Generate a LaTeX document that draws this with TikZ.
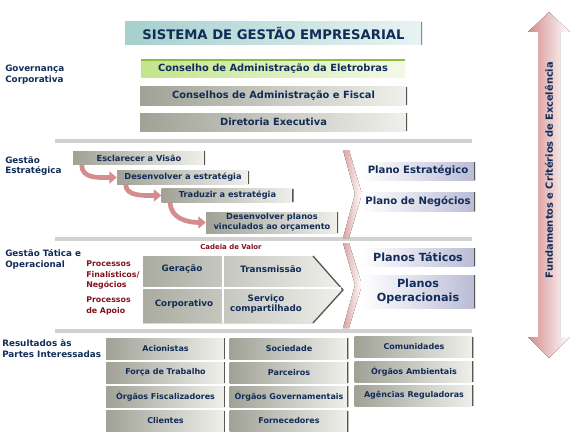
\documentclass[tikz,border=0pt]{standalone}
\usepackage{fontspec}
\setmainfont{DejaVu Sans}
\usetikzlibrary{arrows.meta}
\definecolor{navy}{RGB}{18,44,88}
\definecolor{wine}{RGB}{128,18,28}
\definecolor{boxdark}{RGB}{160,162,150}
\definecolor{boxlight}{RGB}{240,240,236}
\definecolor{edge}{RGB}{88,88,82}
\definecolor{rose}{RGB}{212,140,140}
\definecolor{lav}{RGB}{186,188,214}
\definecolor{teal1}{RGB}{164,208,206}
\definecolor{lime}{RGB}{196,228,140}
\definecolor{leaf}{RGB}{140,190,60}
\definecolor{steel}{RGB}{110,140,190}
\begin{document}
\begin{tikzpicture}[x=0.75pt,y=-0.75pt,
    lbl/.style={font=\fontsize{6.6}{8.2}\selectfont\bfseries, text=navy, align=left, anchor=west, inner sep=0pt},
    proc/.style={font=\fontsize{5.9}{8}\selectfont\bfseries, text=wine, align=left, anchor=west, inner sep=0pt},
    rightedge/.style={path picture={\draw[#1,line width=2pt] (path picture bounding box.north east) -- (path picture bounding box.south east);}},
    gbox/.style={left color=boxdark, right color=boxlight, text=navy, inner sep=0pt, rightedge=edge,
        font=\fontsize{7.4}{9}\selectfont\bfseries},
    stepbox/.style={gbox, minimum width=99pt, minimum height=10pt, font=\fontsize{6.2}{7.6}\selectfont\bfseries, align=center},
    plano/.style={left color=white, right color=lav, text=navy, inner sep=0pt, rightedge=edge,
        minimum width=85.5pt, align=center},
    cell/.style={text=navy, font=\fontsize{6.6}{8}\selectfont\bfseries, align=center, inner sep=0pt},
    party/.style={gbox, minimum width=89pt, minimum height=15.75pt, font=\fontsize{6}{7}\selectfont\bfseries},
    sep/.style={line width=2.5pt, black!18},
    swoosh/.style={draw=rose, line width=3.5pt, -{Triangle[width=9pt,length=5.5pt]}},
    chevron/.style={left color=rose!80, right color=white, draw=none}]
    \useasboundingbox (0,0) rectangle (578,435);

    %excellence arrow
    \fill[left color=rose, right color=white]
        (549,12) -- (570,32) -- (560,32) -- (560,337) -- (570,337) -- (549,358)
        -- (528,337) -- (538,337) -- (538,32) -- (528,32) -- cycle;
    \node[rotate=90, text=navy, font=\fontsize{7.4}{9}\selectfont\bfseries] (fund) at (549,170)
        {Fundamentos e Critérios de Excelência};

    %title and governance
    \node[left color=teal1, right color=teal1!25, inner sep=0pt, rightedge=steel,
        minimum width=222.75pt, minimum height=17.25pt, text=navy,
        font=\fontsize{9.9}{11}\selectfont\bfseries] (title) at (273.5,33.5) {SISTEMA DE GESTÃO EMPRESARIAL};
    \node[lbl] (gov) at (5,75) {Governança\\Corporativa};
    \node[left color=lime, right color=lime!20, inner sep=0pt, rightedge=leaf,
        path picture={\draw[leaf,line width=2pt] (path picture bounding box.north west) -- (path picture bounding box.north east);},
        minimum width=198pt, minimum height=13.5pt, text=navy,
        font=\fontsize{7.4}{9}\selectfont\bfseries] (eletro) at (273,69) {Conselho de Administração da Eletrobras};
    \node[gbox, minimum width=200.25pt, minimum height=13.5pt] (cons) at (273.5,96) {Conselhos de Administração e Fiscal};
    \node[gbox, minimum width=200.25pt, minimum height=13.5pt] (dir) at (273.5,122) {Diretoria Executiva};

    %separators
    \draw[sep] (55,141) -- (472,141);
    \draw[sep] (55,239) -- (472,239);
    \draw[sep] (55,331) -- (472,331);

    %strategic management
    \node[lbl] (est) at (5,166) {Gestão\\Estratégica};
    \node[stepbox] (esc) at (139,158) {Esclarecer a Visão};
    \node[stepbox] (dev) at (183,177.5) {Desenvolver a estratégia};
    \node[stepbox] (trad) at (227.5,195.5) {Traduzir a estratégia};
    \node[stepbox, minimum height=15.75pt] (orc) at (272,222.5) {Desenvolver planos\\vinculados ao orçamento};
    \draw[swoosh] ([xshift=6.75pt]esc.south west) .. controls +(0,14) and +(-18,0) .. (dev.west);
    \draw[swoosh] ([xshift=6.75pt]dev.south west) .. controls +(0,12) and +(-18,0) .. (trad.west);
    \draw[swoosh] ([xshift=6.75pt]trad.south west) .. controls +(0,16) and +(-18,0) .. (orc.west);
    \fill[chevron] (343,150) -- (349,150) -- (362,194) -- (349,238) -- (343,238) -- (355,194) -- cycle;
    \node[plano, minimum height=13.5pt, font=\fontsize{7.6}{9}\selectfont\bfseries] (pe) at (418,171) {Plano Estratégico};
    \node[plano, minimum height=14.25pt, font=\fontsize{7.6}{9}\selectfont\bfseries] (pn) at (418,201.5) {Plano de Negócios};

    %tactical and operational management
    \node[lbl] (tat) at (5,259) {Gestão Tática e\\Operacional};
    \node[text=wine, font=\fontsize{5.2}{6}\selectfont\bfseries, inner sep=0pt] (cadeia) at (231,247) {Cadeia de Valor};
    \node[proc] (fin) at (86,275) {Processos\\Finalísticos/\\Negócios};
    \node[proc] (apoio) at (86,306) {Processos\\de Apoio};
    \fill[left color=boxdark!90, right color=boxlight] (143,256) -- (313,256) -- (343,290) -- (313,323) -- (143,323) -- cycle;
    \draw[edge, line width=1pt] (313,256) -- (343,290) -- (313,323);
    \draw[white, line width=2pt] (223,256) -- (223,323);
    \draw[white, line width=2pt] (143,288) -- (341,288);
    \node[cell] (ger) at (182,269) {Geração};
    \node[cell] (tra) at (271,269) {Transmissão};
    \node[cell] (cor) at (184,304) {Corporativo};
    \node[cell] (ser) at (266,304) {Serviço\\compartilhado};
    \fill[chevron] (343,243) -- (349,243) -- (362,285) -- (349,328) -- (343,328) -- (355,285) -- cycle;
    \node[plano, minimum height=13.5pt, font=\fontsize{8.4}{9}\selectfont\bfseries] (ptat) at (418,257) {Planos Táticos};
    \node[plano, minimum height=24.75pt, font=\fontsize{8.4}{10}\selectfont\bfseries] (pop) at (418,291.5) {Planos\\Operacionais};

    %stakeholders
    \node[lbl] (res) at (2,349) {Resultados às\\Partes Interessadas};
    \node[party] (acio) at (165.5,348.5) {Acionistas};
    \node[party] (forca) at (165.5,372.5) {Força de Trabalho};
    \node[party] (fisc) at (165.5,396.5) {Órgãos Fiscalizadores};
    \node[party] (cli) at (165.5,421) {Clientes};
    \node[party] (soc) at (289,348.5) {Sociedade};
    \node[party] (parc) at (289,372.5) {Parceiros};
    \node[party] (gover) at (289,396.5) {Órgãos Governamentais};
    \node[party] (forn) at (289,421) {Fornecedores};
    \node[party] (comu) at (414,347) {Comunidades};
    \node[party] (amb) at (414,371.5) {Órgãos Ambientais};
    \node[party] (agen) at (414,395.5) {Agências Reguladoras};
\end{tikzpicture}
\end{document}
